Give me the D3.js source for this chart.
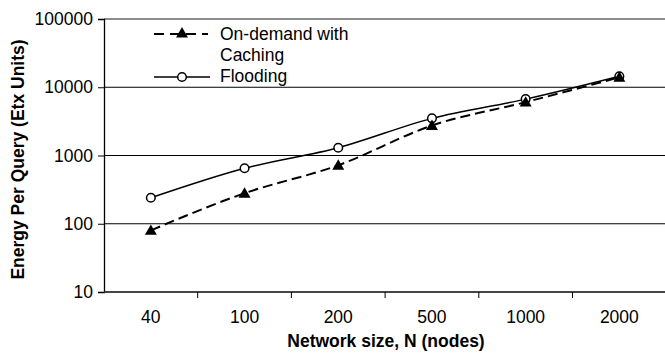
<!DOCTYPE html>
<html>
<head>
<meta charset="utf-8">
<script src="https://cdn.jsdelivr.net/npm/d3@7"></script>
<style>
  body { margin: 0; background: #fff; }
  text { font-family: "Liberation Sans", Arial, sans-serif; }
</style>
</head>
<body>
<svg id="chart" width="665" height="353"></svg>
<script>
// Network sizes (x categories)
var sizes = ["40", "100", "200", "500", "1000", "2000"];
// Energy per query
var onDemand = [80, 280, 720, 2750, 6050, 14000];
var flooding = [240, 650, 1300, 3500, 6700, 14500];
// Y tick values
var yTicks = [10, 100, 1000, 10000, 100000];

var svg = d3.select('#chart');
var plotLeft = 104, plotRight = 665, plotTop = 19, plotBottom = 292;

var x = d3.scaleBand().domain(sizes).range([plotLeft, plotLeft + 6 * 93.7]);
var y = d3.scaleLog().domain([10, 100000]).range([plotBottom, plotTop]);

// Horizontal grid lines
svg.selectAll('.grid')
   .data(yTicks)
   .enter().append('line')
   .attr('x1', plotLeft).attr('x2', plotRight)
   .attr('y1', function(d) { return y(d); })
   .attr('y2', function(d) { return y(d); })
   .attr('stroke', function(d) { return d === 100000 ? '#666' : '#000'; })
   .attr('stroke-width', function(d) { return d === 100000 ? 1.6 : 1; });

// Y axis
var yAxis = svg.append('g')
   .attr('transform', 'translate(' + plotLeft + ',0)')
   .call(d3.axisLeft(y).tickValues(yTicks).tickFormat(d3.format('d')).tickSize(6).tickPadding(5));
yAxis.select('.domain').attr('stroke', '#000').attr('stroke-width', 1.3);
yAxis.selectAll('.tick line').attr('stroke', '#000');
yAxis.selectAll('text').attr('font-size', 17.5).attr('fill', '#000')
     .attr('font-family', '"Liberation Sans", Arial, sans-serif');

// X axis: ticks between categories
var xAxis = svg.append('g')
   .attr('transform', 'translate(0,' + plotBottom + ')');
xAxis.append('line').attr('x1', plotLeft).attr('x2', plotRight)
   .attr('stroke', '#333').attr('stroke-width', 1.6);
xAxis.selectAll('.tk')
   .data(sizes.slice(1))
   .enter().append('line')
   .attr('x1', function(d) { return x(d); })
   .attr('x2', function(d) { return x(d); })
   .attr('y1', 0).attr('y2', 6)
   .attr('stroke', '#000');
xAxis.selectAll('.lbl')
   .data(sizes)
   .enter().append('text')
   .attr('x', function(d) { return x(d) + x.bandwidth() / 2; })
   .attr('y', 31)
   .attr('text-anchor', 'middle')
   .attr('font-size', 17.5)
   .text(function(d) { return d; });

// Axis titles
svg.append('text')
   .attr('x', 386).attr('y', 347)
   .attr('text-anchor', 'middle')
   .attr('font-size', 17.5).attr('font-weight', 'bold')
   .text('Network size, N (nodes)');
svg.append('text')
   .attr('transform', 'translate(24,' + ((plotTop + plotBottom) / 2 + 4) + ') rotate(-90)')
   .attr('text-anchor', 'middle')
   .attr('font-size', 17.5).attr('font-weight', 'bold')
   .text('Energy Per Query (Etx Units)');

var cx = function(d, i) { return x(sizes[i]) + x.bandwidth() / 2; };
var line = d3.line()
   .x(function(d, i) { return cx(d, i); })
   .y(function(d) { return y(d); })
   .curve(d3.curveMonotoneX);

// Flooding series
svg.append('path').datum(flooding)
   .attr('d', line).attr('fill', 'none')
   .attr('stroke', '#000').attr('stroke-width', 1.5);
svg.selectAll('.fl')
   .data(flooding)
   .enter().append('circle')
   .attr('cx', cx).attr('cy', function(d) { return y(d); })
   .attr('r', 4.3).attr('fill', '#fff')
   .attr('stroke', '#000').attr('stroke-width', 1.5);

// On-demand series
svg.append('path').datum(onDemand)
   .attr('d', line).attr('fill', 'none')
   .attr('stroke', '#000').attr('stroke-width', 2)
   .attr('stroke-dasharray', '10,5');
var tri = d3.symbol().type(d3.symbolTriangle).size(62);
svg.selectAll('.od')
   .data(onDemand)
   .enter().append('path')
   .attr('d', tri)
   .attr('transform', function(d, i) { return 'translate(' + cx(d, i) + ',' + (y(d) + 1) + ')'; })
   .attr('fill', '#000');

// Legend
var lg = svg.append('g');
lg.append('line').attr('x1', 154).attr('x2', 208).attr('y1', 34).attr('y2', 34)
  .attr('stroke', '#000').attr('stroke-width', 2).attr('stroke-dasharray', '10,6');
lg.append('path').attr('d', tri).attr('transform', 'translate(182,34)').attr('fill', '#000');
lg.append('text').attr('x', 220).attr('y', 40).attr('font-size', 17.5).text('On-demand with');
lg.append('text').attr('x', 220).attr('y', 61).attr('font-size', 17.5).text('Caching');
lg.append('line').attr('x1', 154).attr('x2', 210).attr('y1', 77).attr('y2', 77)
  .attr('stroke', '#000').attr('stroke-width', 1.5);
lg.append('circle').attr('cx', 182).attr('cy', 77).attr('r', 4.3)
  .attr('fill', '#fff').attr('stroke', '#000').attr('stroke-width', 1.5);
lg.append('text').attr('x', 220).attr('y', 82).attr('font-size', 17.5).text('Flooding');
</script>
</body>
</html>
